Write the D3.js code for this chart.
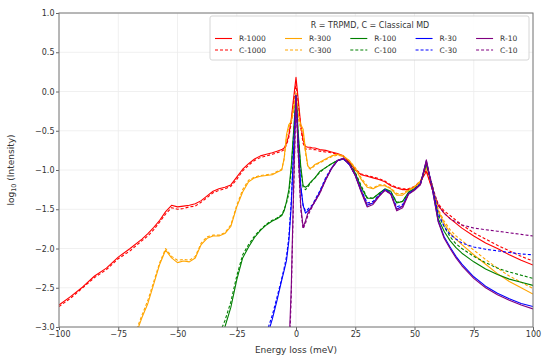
<html>
<head>
<meta charset="utf-8">
<script src="https://d3js.org/d3.v7.min.js"></script>
<style>
  body { margin: 0; background: #fff; }
  text { font-family: "DejaVu Sans", sans-serif; }
</style>
</head>
<body>
<svg width="544" height="358"></svg>
<script>
// energy grid (meV), finer round the elastic peak
const energy = [
  -100, -95, -90, -85, -80, -75, -70, -65, -62.5, -60,
  -57.5, -55, -52.5, -50, -47.5, -45, -42.5, -40, -37.5, -35,
  -32.5, -30, -27.5, -25, -22.5, -20, -17.5, -15, -12.5, -10,
  -8, -6, -5, -4, -3, -2, -1, 0, 1, 2,
  3, 4, 5, 6, 7, 8, 10, 12.5, 15, 17.5,
  20, 22.5, 25, 27.5, 30, 32.5, 35, 37.5, 40, 42.5,
  45, 47.5, 50, 52.5, 55, 57.5, 60, 62.5, 65, 67.5,
  70, 75, 80, 85, 90, 95, 100
];

// log10 intensity (null = far below the axis)
const r1000 = [
  -2.72, -2.61, -2.49, -2.35, -2.25, -2.11, -2.0, -1.88, -1.81, -1.73,
  -1.64, -1.53, -1.45, -1.47, -1.46, -1.45, -1.43, -1.39, -1.33, -1.27,
  -1.24, -1.22, -1.19, -1.09, -0.99, -0.92, -0.86, -0.82, -0.8, -0.78,
  -0.76, -0.74, -0.72, -0.66, -0.55, -0.35, -0.08, 0.18, -0.12, -0.42,
  -0.62, -0.7, -0.71, -0.71, -0.72, -0.72, -0.74, -0.75, -0.77, -0.79,
  -0.82, -0.9, -1.0, -1.06, -1.08, -1.1, -1.12, -1.15, -1.2, -1.23,
  -1.25, -1.25, -1.22, -1.15, -1.02, -1.25, -1.45, -1.55, -1.62, -1.68,
  -1.74, -1.84, -1.93, -2.0, -2.08, -2.15, -2.21
];
const c1000 = [
  -2.74, -2.63, -2.5, -2.37, -2.27, -2.13, -2.03, -1.9, -1.84, -1.76,
  -1.66, -1.56, -1.48, -1.5, -1.49, -1.47, -1.46, -1.41, -1.35, -1.29,
  -1.26, -1.24, -1.21, -1.12, -1.01, -0.94, -0.88, -0.84, -0.82, -0.8,
  -0.78, -0.76, -0.74, -0.68, -0.58, -0.4, -0.15, 0.1, -0.18, -0.46,
  -0.66, -0.73, -0.74, -0.73, -0.74, -0.74, -0.76, -0.77, -0.78, -0.8,
  -0.83, -0.9, -0.99, -1.05, -1.07, -1.09, -1.11, -1.14, -1.19, -1.22,
  -1.24, -1.24, -1.21, -1.14, -1.0, -1.24, -1.43, -1.52, -1.58, -1.64,
  -1.7, -1.8, -1.88, -1.96, -2.03, -2.1, -2.16
];
const r300 = [
  null, null, null, null, null, -3.6, -3.3, -2.88, -2.7, -2.45,
  -2.2, -2.02, -2.12, -2.18, -2.16, -2.17, -2.12, -1.95, -1.87, -1.84,
  -1.84, -1.81, -1.72, -1.47, -1.28, -1.15, -1.1, -1.08, -1.07, -1.06,
  -1.03, -1.0, -0.85, -0.55, -0.42, -0.38, -0.2, -0.02, -0.3, -0.42,
  -0.48, -0.75, -0.95, -0.98, -0.96, -0.93, -0.9, -0.86, -0.82, -0.8,
  -0.82, -0.88, -0.98, -1.12, -1.22, -1.24, -1.2, -1.2, -1.24, -1.32,
  -1.32, -1.26, -1.22, -1.15, -0.95, -1.2, -1.52, -1.68, -1.8, -1.88,
  -1.95, -2.08, -2.2, -2.32, -2.42, -2.5, -2.58
];
const c300 = [
  null, null, null, null, null, -3.55, -3.25, -2.85, -2.66, -2.42,
  -2.18, -2.0, -2.1, -2.15, -2.14, -2.15, -2.1, -1.93, -1.85, -1.83,
  -1.83, -1.8, -1.7, -1.45, -1.25, -1.13, -1.09, -1.07, -1.06, -1.05,
  -1.02, -0.99, -0.86, -0.58, -0.45, -0.4, -0.25, -0.06, -0.35, -0.47,
  -0.52, -0.78, -0.96, -0.99, -0.97, -0.94, -0.91, -0.87, -0.83, -0.81,
  -0.83, -0.88, -0.97, -1.1, -1.2, -1.23, -1.19, -1.19, -1.23, -1.3,
  -1.3, -1.25, -1.21, -1.14, -0.96, -1.2, -1.5, -1.65, -1.76, -1.84,
  -1.9, -2.02, -2.14, -2.25, -2.35, -2.43, -2.51
];
const r100 = [
  null, null, null, null, null, null, null, null, null, null,
  null, null, null, null, null, null, null, null, null, -3.6,
  -3.2, -3.0, -2.75, -2.4, -2.12, -1.98, -1.86, -1.77, -1.7, -1.65,
  -1.62, -1.58, -1.52, -1.4, -1.25, -0.95, -0.5, -0.05, -0.55, -0.95,
  -1.2, -1.22, -1.2, -1.16, -1.13, -1.1, -1.02, -0.97, -0.92, -0.88,
  -0.86, -0.92, -1.04, -1.22, -1.36, -1.36, -1.3, -1.24, -1.27, -1.42,
  -1.4, -1.28, -1.24, -1.18, -0.92, -1.22, -1.62, -1.78, -1.9, -1.99,
  -2.06, -2.17, -2.26, -2.33, -2.39, -2.43, -2.47
];
const c100 = [
  null, null, null, null, null, null, null, null, null, null,
  null, null, null, null, null, null, null, null, null, -3.5,
  -3.1, -2.92, -2.68, -2.35, -2.08, -1.95, -1.84, -1.76, -1.69, -1.64,
  -1.61, -1.57, -1.5, -1.42, -1.3, -1.0, -0.55, -0.1, -0.6, -1.0,
  -1.22, -1.25, -1.22, -1.17, -1.13, -1.1, -1.03, -0.97, -0.92, -0.88,
  -0.86, -0.91, -1.03, -1.2, -1.35, -1.36, -1.3, -1.25, -1.28, -1.41,
  -1.4, -1.29, -1.24, -1.17, -0.93, -1.2, -1.58, -1.72, -1.85, -1.94,
  -2.0, -2.1, -2.18, -2.25, -2.3, -2.34, -2.38
];
const r30 = [
  null, null, null, null, null, null, null, null, null, null,
  null, null, null, null, null, null, null, null, null, null,
  -6.0, -5.6, -5.2, -4.8, -4.4, -4.0, -3.7, -3.4, -3.15, -2.9,
  -2.66, -2.4, -2.28, -2.15, -1.9, -1.45, -0.75, -0.05, -0.7, -1.2,
  -1.45, -1.55, -1.52, -1.5, -1.45, -1.4, -1.28, -1.12, -0.98, -0.88,
  -0.85, -0.93, -1.07, -1.27, -1.45, -1.42, -1.33, -1.25, -1.3, -1.5,
  -1.46, -1.3, -1.25, -1.18, -0.88, -1.24, -1.65, -1.85, -1.98, -2.1,
  -2.2, -2.36, -2.48, -2.57, -2.64, -2.7, -2.74
];
const c30 = [
  null, null, null, null, null, null, null, null, null, null,
  null, null, null, null, null, null, null, null, null, null,
  -5.8, -5.4, -5.0, -4.6, -4.2, -3.85, -3.55, -3.3, -3.08, -2.85,
  -2.62, -2.38, -2.25, -2.1, -1.85, -1.4, -0.75, -0.1, -0.75, -1.22,
  -1.45, -1.52, -1.5, -1.47, -1.44, -1.38, -1.27, -1.1, -0.97, -0.88,
  -0.86, -0.93, -1.06, -1.25, -1.42, -1.4, -1.32, -1.25, -1.3, -1.47,
  -1.44, -1.3, -1.25, -1.18, -0.9, -1.22, -1.55, -1.72, -1.82, -1.88,
  -1.93, -1.98, -2.01, -2.03, -2.05, -2.07, -2.08
];
const r10 = [
  null, null, null, null, null, null, null, null, null, null,
  null, null, null, null, null, null, null, null, null, null,
  null, null, null, null, null, null, null, null, null, null,
  -6.0, -5.0, -4.5, -4.0, -3.3, -2.5, -1.2, -0.05, -0.8, -1.45,
  -1.73, -1.65, -1.55, -1.5, -1.45, -1.4, -1.3, -1.13, -0.98, -0.88,
  -0.85, -0.92, -1.07, -1.28, -1.47, -1.44, -1.34, -1.26, -1.31, -1.52,
  -1.48, -1.31, -1.26, -1.19, -0.87, -1.24, -1.66, -1.87, -2.0, -2.12,
  -2.22, -2.38, -2.5, -2.59, -2.66, -2.72, -2.77
];
const c10 = [
  null, null, null, null, null, null, null, null, null, null,
  null, null, null, null, null, null, null, null, null, null,
  null, null, null, null, null, null, null, null, null, null,
  -6.2, -5.2, -4.7, -4.2, -3.5, -2.6, -1.3, -0.1, -0.85, -1.5,
  -1.75, -1.68, -1.58, -1.52, -1.46, -1.4, -1.3, -1.12, -0.98, -0.88,
  -0.86, -0.93, -1.06, -1.26, -1.44, -1.42, -1.33, -1.26, -1.3, -1.5,
  -1.46, -1.3, -1.25, -1.18, -0.9, -1.2, -1.45, -1.55, -1.62, -1.66,
  -1.7, -1.74, -1.76, -1.78, -1.8, -1.82, -1.84
];

const names = ["R-1000", "C-1000", "R-300", "C-300", "R-100", "C-100", "R-30", "C-30", "R-10", "C-10"];
const values = [r1000, c1000, r300, c300, r100, c100, r30, c30, r10, c10];
const colors = ["red", "orange", "green", "blue", "purple"];

const xTicks = [-100, -75, -50, -25, 0, 25, 50, 75, 100];
const yTicks = [-3, -2.5, -2, -1.5, -1, -0.5, 0, 0.5, 1];

const svg = d3.select("svg");
const L = 59, R = 533, T = 13, B = 327;

const x = d3.scaleLinear().domain([-100, 100]).range([L, R]);
const y = d3.scaleLinear().domain([-3, 1]).range([B, T]);

svg.append("defs").append("clipPath").attr("id", "plot")
  .append("rect").attr("x", L).attr("y", T).attr("width", R - L).attr("height", B - T);

// faint grid
svg.append("g").selectAll("line.gx").data(xTicks).join("line")
  .attr("x1", d => x(d)).attr("x2", d => x(d)).attr("y1", T).attr("y2", B)
  .attr("stroke", "#ececec").attr("stroke-width", 0.8);
svg.append("g").selectAll("line.gy").data(yTicks).join("line")
  .attr("y1", d => y(d)).attr("y2", d => y(d)).attr("x1", L).attr("x2", R)
  .attr("stroke", "#ececec").attr("stroke-width", 0.8);

// curves
const line = d3.line()
  .defined(d => d[1] != null)
  .x(d => x(d[0])).y(d => y(d[1]));

const curves = svg.append("g").attr("clip-path", "url(#plot)");
values.forEach((s, i) => {
  curves.append("path")
    .datum(energy.map((e, k) => [e, s[k]]))
    .attr("d", line)
    .attr("fill", "none")
    .attr("stroke", colors[Math.floor(i / 2)])
    .attr("stroke-width", 1.1)
    .attr("stroke-dasharray", i % 2 ? "3,2" : null)
    .attr("stroke-linejoin", "round");
});

// axes
const xAxis = svg.append("g").attr("transform", `translate(0,${B})`)
  .call(d3.axisBottom(x).tickValues(xTicks).tickSize(3).tickPadding(1.5).tickFormat(d3.format("d")));
const yAxis = svg.append("g").attr("transform", `translate(${L},0)`)
  .call(d3.axisLeft(y).tickValues(yTicks).tickSize(3).tickPadding(1.5).tickFormat(d3.format(".1f")));
[xAxis, yAxis].forEach(a => {
  a.select(".domain").remove();
  a.selectAll("line").attr("stroke", "#666");
  a.selectAll("text").attr("font-size", 8).attr("fill", "#333").attr("font-family", "DejaVu Sans");
});

svg.append("rect").attr("x", L).attr("y", T).attr("width", R - L).attr("height", B - T)
  .attr("fill", "none").attr("stroke", "#777").attr("stroke-width", 1);

svg.append("text").attr("x", (L + R) / 2).attr("y", 353).attr("text-anchor", "middle")
  .attr("font-size", 9).attr("fill", "#333").text("Energy loss (meV)");
const ylab = svg.append("text").attr("transform", `translate(14,${(T + B) / 2}) rotate(-90)`)
  .attr("text-anchor", "middle").attr("font-size", 9).attr("fill", "#333");
ylab.append("tspan").text("log");
ylab.append("tspan").text("10").attr("font-size", 6.5).attr("dy", 2);
ylab.append("tspan").text(" (Intensity)").attr("dy", -2);

// legend
const lg = svg.append("g");
lg.append("rect").attr("x", 210).attr("y", 16).attr("width", 319).attr("height", 44).attr("rx", 2)
  .attr("fill", "white").attr("fill-opacity", 0.85).attr("stroke", "#ccc").attr("stroke-width", 0.8);
lg.append("text").attr("x", 370).attr("y", 28).attr("text-anchor", "middle")
  .attr("font-size", 8).attr("fill", "#333").text("R = TRPMD, C = Classical MD");

let cx = 215;
for (let c = 0; c < 5; c++) {
  let w = 0;
  for (let r = 0; r < 2; r++) {
    const i = c * 2 + r, yy = 38.5 + r * 11.5;
    lg.append("line").attr("x1", cx).attr("x2", cx + 17).attr("y1", yy).attr("y2", yy)
      .attr("stroke", colors[c]).attr("stroke-width", 1.1)
      .attr("stroke-dasharray", r ? "3,2" : null);
    const t = lg.append("text").attr("x", cx + 24).attr("y", yy + 2.8)
      .attr("font-size", 7.5).attr("fill", "#333").text(names[i]);
    w = Math.max(w, t.node().getComputedTextLength());
  }
  cx += 24 + w + 19;
}
</script>
</body>
</html>
